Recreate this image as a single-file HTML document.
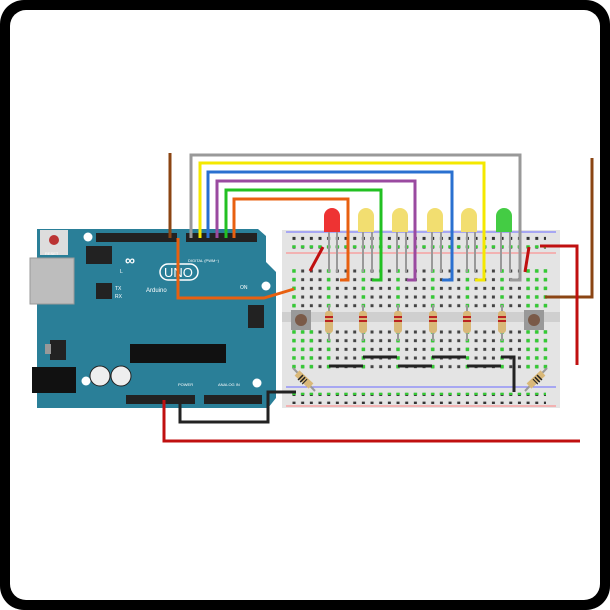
<!DOCTYPE html>
<html><head><meta charset="utf-8"><style>
html,body{margin:0;padding:0;background:#fff;}
svg{display:block;}
text{font-family:"Liberation Sans",sans-serif;}
</style></head><body>
<svg width="610" height="610" viewBox="0 0 610 610" xmlns="http://www.w3.org/2000/svg">
<defs>
<pattern id="holes" x="289.7" y="0" width="8.67" height="8.67" patternUnits="userSpaceOnUse">
<rect x="2.8" y="2.8" width="3" height="3" fill="#333"/>
</pattern>
<pattern id="gholes" x="289.7" y="0" width="8.67" height="8.67" patternUnits="userSpaceOnUse">
<rect x="2.6" y="2.6" width="3.4" height="3.4" fill="#3c3"/>
</pattern>
<pattern id="rowsM" x="289.7" y="266.7" width="8.67" height="8.67" patternUnits="userSpaceOnUse">
<rect x="2.8" y="2.8" width="3" height="3" fill="#444"/>
</pattern>
<pattern id="growsM" x="289.7" y="266.7" width="8.67" height="8.67" patternUnits="userSpaceOnUse">
<rect x="2.6" y="2.6" width="3.4" height="3.4" fill="#3c3"/>
</pattern>
<pattern id="rowsL" x="289.7" y="327.7" width="8.67" height="8.67" patternUnits="userSpaceOnUse">
<rect x="2.8" y="2.8" width="3" height="3" fill="#444"/>
</pattern>
<pattern id="growsL" x="289.7" y="327.7" width="8.67" height="8.67" patternUnits="userSpaceOnUse">
<rect x="2.6" y="2.6" width="3.4" height="3.4" fill="#3c3"/>
</pattern>
</defs>
<rect x="0" y="0" width="610" height="610" rx="24" fill="#000"/>
<rect x="10" y="10" width="590" height="590" rx="16" fill="#fff"/>

<!-- Breadboard -->
<rect x="282" y="230" width="278" height="178" fill="#e4e4e4"/>
<rect x="282" y="312" width="278" height="10" fill="#cfcfcf"/>
<line x1="286" y1="232" x2="556" y2="232" stroke="#6a6aff" stroke-width="1"/>
<line x1="286" y1="253" x2="556" y2="253" stroke="#ff8080" stroke-width="1"/>
<line x1="286" y1="387" x2="556" y2="387" stroke="#6a6aff" stroke-width="1"/>
<line x1="286" y1="406" x2="556" y2="406" stroke="#ff8080" stroke-width="1"/>
<rect x="290" y="233" width="256" height="16" fill="url(#holes)"/>
<rect x="290" y="266.7" width="260" height="43.3" fill="url(#rowsM)"/>
<rect x="290" y="327.7" width="260" height="43.3" fill="url(#rowsL)"/>
<rect x="290" y="388" width="256" height="16" fill="url(#holes)"/>
<!-- green highlighted holes -->
<g>
<rect x="290" y="242" width="256" height="6" fill="url(#gholes)"/>
<rect x="290" y="389" width="256" height="6" fill="url(#gholes)"/>
<rect x="290" y="266.7" width="8.67" height="43.3" fill="url(#growsM)"/>
<rect x="290" y="327.7" width="26" height="43.3" fill="url(#growsL)"/>
<rect x="324.7" y="266.7" width="8.67" height="43.3" fill="url(#growsM)"/>
<rect x="324.7" y="327.7" width="8.67" height="43.3" fill="url(#growsL)"/>
<rect x="359.3" y="266.7" width="8.67" height="43.3" fill="url(#growsM)"/>
<rect x="359.3" y="327.7" width="8.67" height="43.3" fill="url(#growsL)"/>
<rect x="394" y="266.7" width="8.67" height="43.3" fill="url(#growsM)"/>
<rect x="394" y="327.7" width="8.67" height="43.3" fill="url(#growsL)"/>
<rect x="428.7" y="266.7" width="8.67" height="43.3" fill="url(#growsM)"/>
<rect x="428.7" y="327.7" width="8.67" height="43.3" fill="url(#growsL)"/>
<rect x="463.4" y="266.7" width="8.67" height="43.3" fill="url(#growsM)"/>
<rect x="463.4" y="327.7" width="8.67" height="43.3" fill="url(#growsL)"/>
<rect x="498" y="266.7" width="8.67" height="43.3" fill="url(#growsM)"/>
<rect x="498" y="327.7" width="8.67" height="43.3" fill="url(#growsL)"/>
<rect x="524" y="266.7" width="26" height="43.3" fill="url(#growsM)"/>
<rect x="524" y="327.7" width="26" height="43.3" fill="url(#growsL)"/>
</g>

<!-- Arduino -->
<path d="M37 229 H258 L266 236 V262 L276 272 V398 L268 408 H37 Z" fill="#2a7f98"/>
<rect x="30" y="258" width="44" height="46" fill="#bdbdbd" stroke="#999"/>
<rect x="32" y="367" width="44" height="26" fill="#111"/>
<rect x="40" y="230" width="28" height="25" fill="#ddd"/>
<circle cx="54" cy="240" r="5" fill="#b33"/>
<text x="45" y="255" font-size="4" fill="#fff">RESET</text>
<circle cx="88" cy="237" r="4.5" fill="#fff"/>
<circle cx="266" cy="286" r="4.5" fill="#fff"/>
<circle cx="86" cy="381" r="4.5" fill="#fff"/>
<circle cx="257" cy="383" r="4.5" fill="#fff"/>
<rect x="86" y="246" width="26" height="18" fill="#222"/>
<rect x="96" y="233" width="81" height="9" fill="#222"/>
<rect x="186" y="233" width="71" height="9" fill="#222"/>
<rect x="96" y="283" width="16" height="16" fill="#222"/>
<rect x="248" y="305" width="16" height="23" fill="#222"/>
<rect x="130" y="344" width="96" height="19" fill="#111"/>
<rect x="50" y="340" width="16" height="20" fill="#222"/>
<rect x="45" y="344" width="6" height="10" fill="#999"/>
<circle cx="100" cy="376" r="10" fill="#eee" stroke="#222"/>
<circle cx="121" cy="376" r="10" fill="#eee" stroke="#222"/>
<rect x="126" y="395" width="69" height="9" fill="#222"/>
<rect x="204" y="395" width="58" height="9" fill="#222"/>
<text x="125" y="265" font-size="14" fill="#fff" font-weight="bold">∞</text>
<rect x="160" y="264" width="38" height="16" rx="8" fill="none" stroke="#fff" stroke-width="1.5"/>
<text x="164" y="277" font-size="13" fill="#fff">UNO</text>
<text x="146" y="292" font-size="6" fill="#fff">Arduino</text>
<text x="188" y="262" font-size="4" fill="#fff">DIGITAL (PWM~)</text>
<text x="218" y="386" font-size="4" fill="#fff">ANALOG IN</text>
<text x="178" y="386" font-size="4" fill="#fff">POWER</text>
<text x="120" y="273" font-size="5" fill="#fff">L</text>
<text x="115" y="290" font-size="5" fill="#fff">TX</text>
<text x="115" y="298" font-size="5" fill="#fff">RX</text>
<text x="240" y="289" font-size="5" fill="#fff">ON</text>

<!-- LEDs -->
<g>
<rect x="328" y="230" width="2" height="42" fill="#999"/><rect x="336" y="230" width="2" height="42" fill="#999"/>
<path d="M324 232 V216 a8 8 0 0 1 16 0 V232 Z" fill="#e33"/>
<rect x="362" y="230" width="2" height="42" fill="#999"/><rect x="371" y="230" width="2" height="42" fill="#999"/>
<path d="M358 232 V216 a8 8 0 0 1 16 0 V232 Z" fill="#f2de70"/>
<rect x="396" y="230" width="2" height="42" fill="#999"/><rect x="405" y="230" width="2" height="42" fill="#999"/>
<path d="M392 232 V216 a8 8 0 0 1 16 0 V232 Z" fill="#f2de70"/>
<rect x="431" y="230" width="2" height="42" fill="#999"/><rect x="440" y="230" width="2" height="42" fill="#999"/>
<path d="M427 232 V216 a8 8 0 0 1 16 0 V232 Z" fill="#f2de70"/>
<rect x="466" y="230" width="2" height="42" fill="#999"/><rect x="474" y="230" width="2" height="42" fill="#999"/>
<path d="M461 232 V216 a8 8 0 0 1 16 0 V232 Z" fill="#f2de70"/>
<rect x="500" y="230" width="2" height="42" fill="#999"/><rect x="509" y="230" width="2" height="42" fill="#999"/>
<path d="M496 232 V216 a8 8 0 0 1 16 0 V232 Z" fill="#4c4"/>
</g>

<!-- resistors vertical -->
<g>
<rect x="328" y="305" width="2" height="36" fill="#999"/><rect x="325" y="311" width="8" height="22" rx="3" fill="#d9b878"/>
<rect x="362" y="305" width="2" height="36" fill="#999"/><rect x="359" y="311" width="8" height="22" rx="3" fill="#d9b878"/>
<rect x="397" y="305" width="2" height="36" fill="#999"/><rect x="394" y="311" width="8" height="22" rx="3" fill="#d9b878"/>
<rect x="432" y="305" width="2" height="36" fill="#999"/><rect x="429" y="311" width="8" height="22" rx="3" fill="#d9b878"/>
<rect x="466" y="305" width="2" height="36" fill="#999"/><rect x="463" y="311" width="8" height="22" rx="3" fill="#d9b878"/>
<rect x="501" y="305" width="2" height="36" fill="#999"/><rect x="498" y="311" width="8" height="22" rx="3" fill="#d9b878"/>
<g fill="#b22"><rect x="325" y="316" width="8" height="2"/><rect x="325" y="320" width="8" height="2"/><rect x="359" y="316" width="8" height="2"/><rect x="359" y="320" width="8" height="2"/><rect x="394" y="316" width="8" height="2"/><rect x="394" y="320" width="8" height="2"/><rect x="429" y="316" width="8" height="2"/><rect x="429" y="320" width="8" height="2"/><rect x="463" y="316" width="8" height="2"/><rect x="463" y="320" width="8" height="2"/><rect x="498" y="316" width="8" height="2"/><rect x="498" y="320" width="8" height="2"/></g>
</g>
<!-- diagonal resistors -->
<line x1="293" y1="368" x2="315" y2="391" stroke="#999" stroke-width="2"/>
<line x1="297" y1="373" x2="311" y2="386" stroke="#d9b878" stroke-width="7"/>
<line x1="300" y1="377" x2="305" y2="382" stroke="#222" stroke-width="7" stroke-dasharray="1.5 1.5"/>
<line x1="547" y1="368" x2="525" y2="391" stroke="#999" stroke-width="2"/>
<line x1="543" y1="373" x2="529" y2="386" stroke="#d9b878" stroke-width="7"/>
<line x1="540" y1="377" x2="535" y2="382" stroke="#222" stroke-width="7" stroke-dasharray="1.5 1.5"/>
<!-- buttons -->
<rect x="291" y="310" width="20" height="20" fill="#999"/><circle cx="301" cy="320" r="6" fill="#7a5a48"/>
<rect x="524" y="310" width="20" height="20" fill="#999"/><circle cx="534" cy="320" r="6" fill="#7a5a48"/>

<!-- jumpers on board -->
<g stroke="#222" stroke-width="3" fill="none">
<line x1="329" y1="366" x2="363" y2="366"/>
<line x1="363" y1="357" x2="397" y2="357"/>
<line x1="398" y1="366" x2="432" y2="366"/>
<line x1="432" y1="357" x2="466" y2="357"/>
<line x1="467" y1="366" x2="501" y2="366"/>
<polyline points="501,357 514,357 514,392"/>
<polyline points="180,400 180,422 268,422 268,392 296,392"/>
</g>

<!-- wires -->
<g fill="none" stroke-width="3" stroke-linejoin="miter">
<polyline stroke="#8b4513" points="170,153 170,238"/>
<polyline stroke="#8b4513" points="592,158 592,297 545,297"/>
<polyline stroke="#999" points="191,238 191,155 520,155 520,280 510,280"/>
<polyline stroke="#f4e800" points="200,238 200,163 484,163 484,280 475,280"/>
<polyline stroke="#2a70d0" points="208,238 208,172 452,172 452,280 442,280"/>
<polyline stroke="#9a4aa0" points="217,238 217,181 415,181 415,280 407,280"/>
<polyline stroke="#22c022" points="226,238 226,190 381,190 381,280 372,280"/>
<polyline stroke="#e86010" points="234,238 234,199 348,199 348,280 340,280"/>
<polyline stroke="#e86010" points="178,238 178,298 264,298 294,289"/>
<polyline stroke="#c01010" points="164,400 164,441 580,441"/>
<polyline stroke="#c01010" points="540,246 577,246 577,365"/>
<line stroke="#c01010" x1="323" y1="247" x2="310" y2="271"/>
<line stroke="#c01010" x1="529" y1="247" x2="525" y2="272"/>
</g>
</svg>
</body></html>
